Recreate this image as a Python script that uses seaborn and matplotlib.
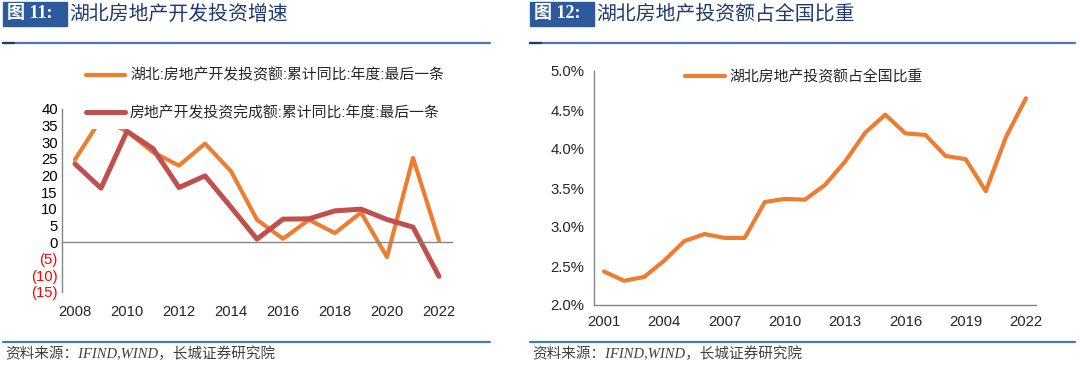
import matplotlib

matplotlib.use("Agg")

import matplotlib.pyplot as plt
import pandas as pd
import seaborn as sns
from matplotlib.lines import Line2D
from matplotlib.patches import Rectangle
from matplotlib.ticker import FixedLocator, FuncFormatter

# ---- data ----
years_left = list(range(2008, 2023))
hubei_dev_yoy = [24.8, 37.0, 33.3, 27.0, 23.0, 29.6, 21.3, 6.7, 1.0, 6.7, 2.7, 8.9, -4.5, 25.3, 0.5]
national_dev_yoy = [23.5, 16.2, 33.3, 28.1, 16.4, 19.9, 10.5, 0.9, 6.9, 7.0, 9.4, 9.9, 6.8, 4.5, -10.3]
left_labels = ["湖北:房地产开发投资额:累计同比:年度:最后一条", "房地产开发投资完成额:累计同比:年度:最后一条"]

years_right = list(range(2001, 2023))
hubei_share = [2.43, 2.31, 2.36, 2.57, 2.82, 2.91, 2.86, 2.86, 3.32, 3.36, 3.35, 3.54, 3.84,
               4.21, 4.44, 4.20, 4.18, 3.91, 3.87, 3.46, 4.15, 4.65]
right_label = "湖北房地产投资额占全国比重"

titles = [("图 11:", "湖北房地产开发投资增速"), ("图 12:", "湖北房地产投资额占全国比重")]
source = "资料来源：IFIND,WIND，长城证券研究院"

ORANGE = "#ED7D31"
RED = "#C0504D"
AXIS_GREY = "#868686"
BOX_BLUE = "#2D5A9B"
TITLE_BLUE = "#1F3A6E"
RULE_BLUE = "#4A78B5"
FS = 10.7  # axis / legend text size

sns.set_theme(style="white")
plt.rcParams["font.family"] = ["Liberation Sans", "Noto Sans CJK SC", "DejaVu Sans"]
plt.rcParams["axes.unicode_minus"] = False

W, H = 1080, 372
fig = plt.figure(figsize=(W / 100, H / 100), dpi=100)


def fx(px):
    return px / W


def fy(py):
    return 1 - py / H


# ---- left: growth rates ----
ax1 = fig.add_axes([fx(62), fy(292), fx(452) - fx(62), fy(109) - fy(292)])
left_df = pd.DataFrame({
    "year": years_left * 2,
    "value": hubei_dev_yoy + national_dev_yoy,
    "series": [left_labels[0]] * len(years_left) + [left_labels[1]] * len(years_left),
})
sns.lineplot(data=left_df[left_df.series == left_labels[0]], x="year", y="value",
             color=ORANGE, lw=3.0, ax=ax1, legend=False)
sns.lineplot(data=left_df[left_df.series == left_labels[1]], x="year", y="value",
             color=RED, lw=3.6, ax=ax1, legend=False)
ax1.set_xlim(2007.5, 2022.5)
ax1.set_ylim(-15, 40)
ax1.set_xlabel("")
ax1.set_ylabel("")
for s in ("top", "right"):
    ax1.spines[s].set_visible(False)
ax1.spines["bottom"].set_position(("data", 0))
for s in ("left", "bottom"):
    ax1.spines[s].set_color(AXIS_GREY)
    ax1.spines[s].set_linewidth(1.0)
ax1.yaxis.set_major_locator(FixedLocator(range(-15, 41, 5)))
ax1.yaxis.set_major_formatter(FuncFormatter(lambda v, p: f"({abs(int(v))})" if v < 0 else f"{int(v)}"))
ax1.tick_params(axis="y", direction="in", length=4, color=AXIS_GREY, labelsize=FS, pad=3)
for lab, v in zip(ax1.get_yticklabels(), range(-15, 41, 5)):
    lab.set_color("#FF0000" if v < 0 else "black")
ax1.xaxis.set_major_locator(FixedLocator(years_left[::2]))
ax1.xaxis.set_minor_locator(FixedLocator([y + 0.5 for y in years_left[1::2]]))
ax1.tick_params(axis="x", which="major", length=0, labelsize=FS, pad=45)
ax1.tick_params(axis="x", which="minor", direction="in", length=4, color=AXIS_GREY, width=1)

handles1 = [Line2D([], [], color=ORANGE, lw=3.0), Line2D([], [], color=RED, lw=3.6)]
leg1 = ax1.legend(handles1, left_labels, loc="upper left", bbox_to_anchor=(fx(78), fy(60)),
                  bbox_transform=fig.transFigure, fontsize=FS, frameon=True, framealpha=1,
                  facecolor="white", edgecolor="none", handlelength=2.6, handletextpad=0.35,
                  labelspacing=1.55, borderpad=0.55, borderaxespad=0, fancybox=False)
leg1.set_zorder(10)

# ---- right: Hubei share of national ----
ax2 = fig.add_axes([fx(594), fy(305), fx(1036) - fx(594), fy(71) - fy(305)])
right_df = pd.DataFrame({"year": years_right, "share": hubei_share})
sns.lineplot(data=right_df, x="year", y="share", color=ORANGE, lw=3.0, ax=ax2, legend=False)
ax2.set_xlim(2000.5, 2022.5)
ax2.set_ylim(2.0, 5.0)
ax2.set_xlabel("")
ax2.set_ylabel("")
for s in ("top", "right"):
    ax2.spines[s].set_visible(False)
for s in ("left", "bottom"):
    ax2.spines[s].set_color(AXIS_GREY)
    ax2.spines[s].set_linewidth(1.0)
ax2.yaxis.set_major_locator(FixedLocator([2.0, 2.5, 3.0, 3.5, 4.0, 4.5, 5.0]))
ax2.yaxis.set_major_formatter(FuncFormatter(lambda v, p: f"{v:.1f}%"))
ax2.tick_params(axis="y", direction="out", length=4, color=AXIS_GREY, labelsize=FS, pad=3)
ax2.xaxis.set_major_locator(FixedLocator(years_right[::3]))
ax2.xaxis.set_minor_locator(FixedLocator([y - 0.5 for y in years_right[3::3]]))
ax2.tick_params(axis="x", which="major", length=0, labelsize=FS, pad=7)
ax2.tick_params(axis="x", which="minor", direction="in", length=5, color=AXIS_GREY, width=1)
ax2.legend([Line2D([], [], color=ORANGE, lw=3.0)], [right_label], loc="upper left",
           bbox_to_anchor=(fx(679), fy(64)), bbox_transform=fig.transFigure, fontsize=FS,
           frameon=False, handlelength=2.7, handletextpad=0.3, borderaxespad=0)

# ---- report furniture: title boxes, rules, source lines ----
for x0, x1, (tag, title) in [(3, 490, titles[0]), (530, 1075, titles[1])]:
    box_w = 64
    fig.patches.append(Rectangle((fx(x0), fy(26)), fx(box_w), fy(2) - fy(26),
                                 transform=fig.transFigure, color=BOX_BLUE, zorder=1))
    fig.text(fx(x0 + 4), fy(14), tag, color="white", fontsize=13, weight="bold", va="center",
             family=["Liberation Serif", "Noto Sans CJK SC"])
    fig.text(fx(x0 + box_w + 2), fy(14), title, color=TITLE_BLUE, fontsize=14.3, va="center",
             weight="medium", family=["Noto Sans CJK SC"])
    fig.add_artist(Line2D([fx(x0), fx(x1)], [fy(43), fy(43)], color=RULE_BLUE, lw=1.6))
    fig.add_artist(Line2D([fx(x0), fx(x0 + 11)], [fy(43), fy(43)], color="#1F3A6E", lw=1.6))
    fig.add_artist(Line2D([fx(x0), fx(x1)], [fy(342), fy(342)], color=RULE_BLUE, lw=1.6))
    fig.text(fx(x0 + 2), fy(354), source, color="#404040", fontsize=10.5, va="center",
             style="italic", family=["Liberation Serif", "Noto Sans CJK SC"])

fig.savefig("out.png", dpi=100, facecolor="white")
